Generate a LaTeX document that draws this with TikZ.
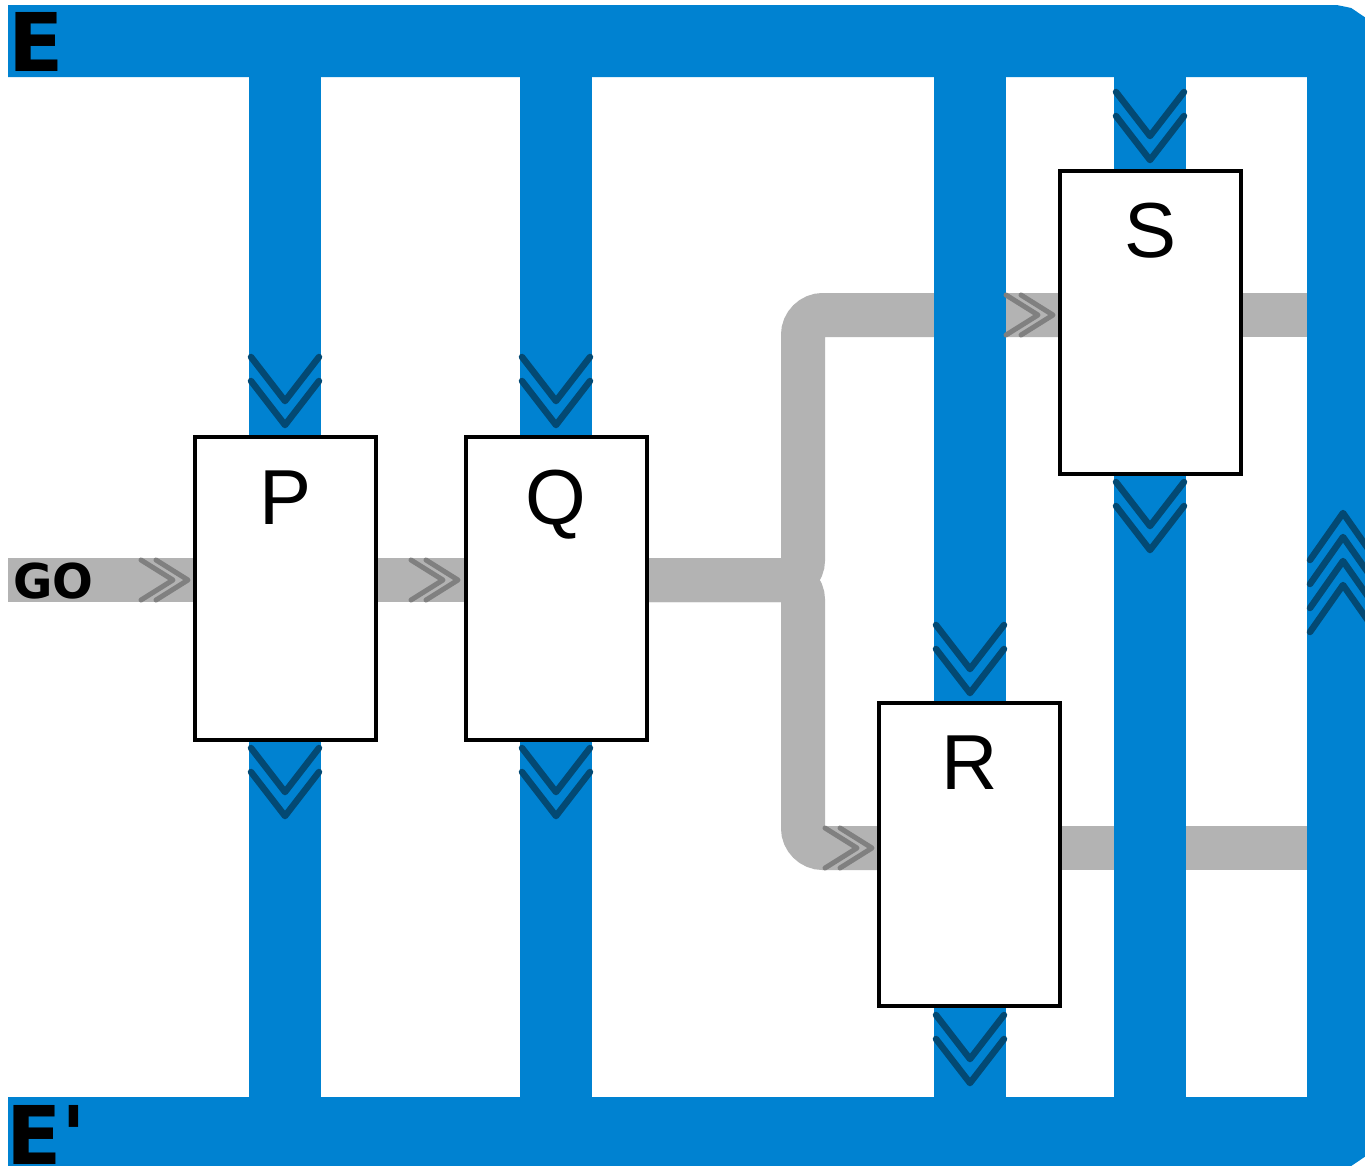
\documentclass[tikz,border=0pt]{standalone}
\usepackage{fontspec}
\setmainfont{Liberation Sans}
\newfontfamily\boldfam{DejaVu Sans}
\definecolor{bandblue}{RGB}{0,130,209}
\definecolor{chevblue}{RGB}{3,73,115}
\definecolor{pipegray}{RGB}{179,179,179}
\definecolor{chevgray}{RGB}{128,128,128}
\tikzset{
  band/.style={draw=bandblue, line width=72pt},
  pipe/.style={draw=pipegray, line width=44pt},
  chev/.style={draw=chevblue, line width=6.5pt, line cap=round, line join=round},
  gchev/.style={draw=chevgray, line width=5pt, line cap=round, line join=round},
  box/.style={draw=black, fill=white, line width=4pt, minimum width=181pt, minimum height=303pt, inner sep=0pt},
  lbl/.style={font=\fontsize{78}{78}\selectfont, inner sep=0pt},
  blbl/.style={font=\boldfam\bfseries\fontsize{81}{81}\selectfont, inner sep=0pt},
  downchev/.pic={\path[chev] (-34,0)--(0,44)--(34,0) (-34,24)--(0,68)--(34,24);},
  upchev/.pic={\path[chev] (-33,0)--(0,-47)--(33,0) (-33,24)--(0,-23)--(33,24);},
  rightchev/.pic={\path[gchev] (-47,-20)--(-15,0)--(-47,20) (-32,-20)--(0,0)--(-32,20);}
}
\begin{document}
\begin{tikzpicture}[x=1pt,y=-1pt]
\useasboundingbox (0,0) rectangle (1365,1165);
\clip (0,0) rectangle (1365,1165);
\fill[white] (0,0) rectangle (1365,1165);
\coordinate (goStart) at (8,580);
\coordinate (split) at (803,580);
\coordinate (upTurn) at (803,315);
\coordinate (downTurn) at (803,848);
\coordinate (sIn) at (1060,315);
\coordinate (rIn) at (879,848);
\coordinate (sOut) at (1241,315);
\coordinate (rOut) at (1060,848);
\coordinate (sEnd) at (1320,315);
\coordinate (rEnd) at (1320,848);
\coordinate (qOut) at (647,580);
% gray pipes
\path[pipe] (goStart) -- (qOut);
\path[pipe, rounded corners=20pt] (qOut) -- (split) -- (upTurn) -- (sIn);
\path[pipe, rounded corners=20pt] (qOut) -- (split) -- (downTurn) -- (rIn);
\path[pipe] (sOut) -- (sEnd);
\path[pipe] (rOut) -- (rEnd);
% blue frame and bands
\coordinate (eTop) at (8,41);
\coordinate (eBot) at (8,1133);
\path[band, rounded corners=10pt] (eTop) -- (1343,41) -- (1343,1133) -- (eBot);
\foreach \x in {285,556,970,1150} {\path[band] (\x,41) -- (\x,1133);}
% chevrons
\pic at (285,357) {downchev};
\pic at (285,748) {downchev};
\pic at (556,357) {downchev};
\pic at (556,748) {downchev};
\pic at (970,625) {downchev};
\pic at (970,1015) {downchev};
\pic at (1150,92) {downchev};
\pic at (1150,482) {downchev};
\pic at (1343,560) {upchev};
\pic at (1343,608) {upchev};
\pic at (188,580) {rightchev};
\pic at (458,580) {rightchev};
\pic at (1053,315) {rightchev};
\pic at (872,848) {rightchev};
% boxes
\node[box] (P) at (285.5,588.5) {};
\node[box] (Q) at (556,588.5) {};
\node[box] (R) at (969.5,854) {};
\node[box] (S) at (1150.5,322) {};
\node[lbl, anchor=base] (Pl) at ([yshift=-89pt]P.north) {P};
\node[lbl, anchor=base] (Ql) at ([yshift=-89pt]Q.north) {Q};
\node[lbl, anchor=base] (Rl) at ([yshift=-89pt]R.north) {R};
\node[lbl, anchor=base] (Sl) at ([yshift=-89pt]S.north) {S};
% bold labels
\node[blbl, anchor=base west] (E) at (8,71) {E};
\node[blbl, anchor=base west] (Ep) at (6,1164) {E'};
\node[font=\boldfam\bfseries\fontsize{48}{48}\selectfont, inner sep=0pt, anchor=base west] (GO) at (13,598) {GO};
\end{tikzpicture}
\end{document}
